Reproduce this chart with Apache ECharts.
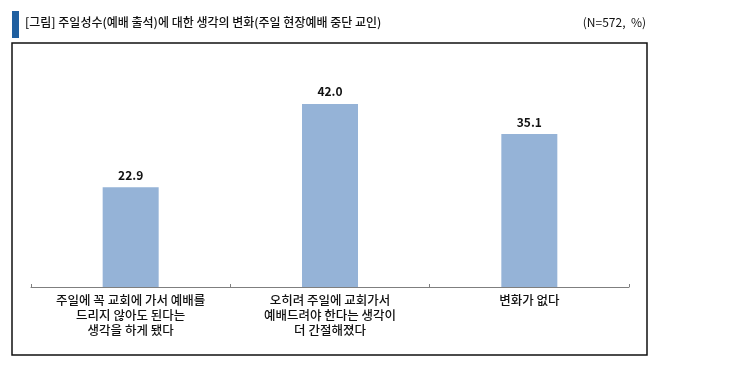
<!DOCTYPE html>
<html><head><meta charset="utf-8">
<script src="https://cdn.jsdelivr.net/npm/echarts@6/dist/echarts.min.js"></script>
<style>html,body{margin:0;padding:0;background:#fff}#c{width:730px;height:368px}</style>
</head><body><div id="c"></div>
<script>
const titleText = '[그림] 주일성수(예배 출석)에 대한 생각의 변화(주일 현장예배 중단 교인)';
const noteText = '(N=572,  %)';
const categories = [
  '주일에 꼭 교회에 가서 예배를\n드리지 않아도 된다는\n생각을 하게 됐다',
  '오히려 주일에 교회가서\n예배드려야 한다는 생각이\n더 간절해졌다',
  '변화가 없다'
];
const values = [22.9, 42.0, 35.1];

const FONT = '"Noto Sans CJK KR", "Noto Sans", sans-serif';
const chart = echarts.init(document.getElementById('c'));
chart.setOption({
  animation: false,
  backgroundColor: '#fff',
  graphic: [
    {type: 'rect', shape: {x: 12, y: 11, width: 7, height: 27}, style: {fill: '#1F5FA0'}},
    {type: 'text', left: 25, top: 16, style: {text: titleText, font: '500 12px ' + FONT, fill: '#111'}},
    {type: 'text', right: 84, top: 16, style: {text: noteText, font: '12px ' + FONT, fill: '#111'}},
    {type: 'rect', shape: {x: 12, y: 43, width: 635, height: 312}, style: {fill: 'none', stroke: '#111', lineWidth: 1.5}}
  ],
  grid: {left: 31, right: 101, top: 69, bottom: 81},
  xAxis: {
    type: 'category',
    data: categories,
    boundaryGap: true,
    axisLine: {lineStyle: {color: '#7f7f7f', width: 1}},
    axisTick: {show: true, length: 3, inside: true, lineStyle: {color: '#7f7f7f'}},
    axisLabel: {interval: 0, margin: 6, fontFamily: FONT, fontSize: 12.5, fontWeight: 500, color: '#111', lineHeight: 15, align: 'center'}
  },
  yAxis: {type: 'value', min: 0, max: 50, show: false, splitLine: {show: false}},
  series: [{
    type: 'bar',
    data: values,
    barWidth: 56,
    itemStyle: {color: '#95B3D7'},
    label: {show: true, position: 'top', distance: 6, formatter: p => p.value.toFixed(1), fontFamily: FONT, fontSize: 12, fontWeight: 'bold', color: '#111'}
  }]
});
</script></body></html>
